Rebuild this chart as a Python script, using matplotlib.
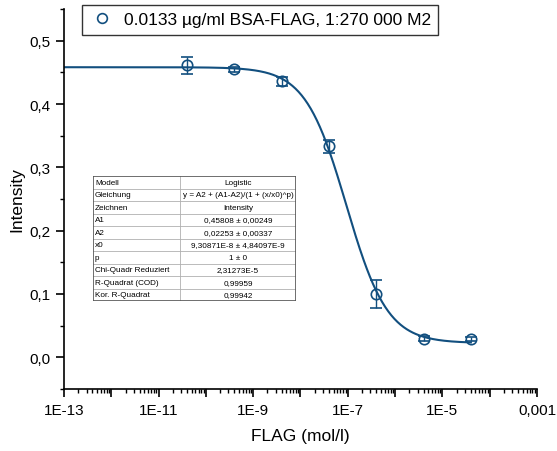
import numpy as np
import matplotlib
matplotlib.use("Agg")
import matplotlib.pyplot as plt
from matplotlib.lines import Line2D
from matplotlib.ticker import LogLocator, FixedLocator, FuncFormatter

plt.rcParams['font.family'] = ['Liberation Sans', 'DejaVu Sans']

# ---- data ----
conc = [4e-11, 4e-10, 4e-9, 4e-8, 4e-7, 4e-6, 4e-5]
intensity = [0.461, 0.455, 0.436, 0.333, 0.0995, 0.0295, 0.0295]
err = [0.013, 0.004, 0.007, 0.010, 0.022, 0.004, 0.003]

# logistic fit parameters (from table)
A1 = 0.45808
A2 = 0.02253
x0 = 9.30871e-8
p = 1.0

legend_label = "0.0133 µg/ml BSA-FLAG, 1:270 000 M2"
x_tick_labels = {-13: "1E-13", -11: "1E-11", -9: "1E-9", -7: "1E-7", -5: "1E-5", -3: "0,001"}

table_keys = ["Modell", "Gleichung", "Zeichnen", "A1", "A2", "x0", "p",
              "Chi-Quadr Reduziert", "R-Quadrat (COD)", "Kor. R-Quadrat"]
table_vals = ["Logistic", "y = A2 + (A1-A2)/(1 + (x/x0)^p)", "Intensity",
              "0,45808 ± 0,00249", "0,02253 ± 0,00337", "9,30871E-8 ± 4,84097E-9",
              "1 ± 0", "2,31273E-5", "0,99959", "0,99942"]

color = '#124f7f'
W, H = 557, 452
fig = plt.figure(figsize=(W / 100, H / 100), dpi=100)
ax = fig.add_axes([64 / W, 1 - 390 / H, (537 - 64) / W, (390 - 10) / H])

# fit curve
xs = np.logspace(-13, np.log10(conc[-1]), 400)
ys = A2 + (A1 - A2) / (1 + (xs / x0) ** p)
ax.plot(xs, ys, color=color, lw=1.5, zorder=2)

ax.errorbar(conc, intensity, yerr=err, fmt='o', ms=7.5, mfc='none', mec=color,
            mew=1.2, ecolor=color, elinewidth=1.0, capsize=4, capthick=1.0,
            zorder=3)

ax.set_xscale('log')
ax.set_xlim(1e-13, 1e-3)
ax.set_ylim(-0.05, 0.55)

def xfmt(v, pos):
    e = int(round(np.log10(v)))
    return x_tick_labels.get(e, "")

ax.xaxis.set_major_locator(FixedLocator([10.0 ** e for e in range(-13, -2)]))
ax.xaxis.set_major_formatter(FuncFormatter(xfmt))
ax.xaxis.set_minor_locator(LogLocator(base=10, subs=np.arange(2, 10), numticks=100))
ax.xaxis.set_minor_formatter(FuncFormatter(lambda v, pos: ""))

ax.yaxis.set_major_locator(FixedLocator([0.0, 0.1, 0.2, 0.3, 0.4, 0.5]))
ax.yaxis.set_major_formatter(FuncFormatter(lambda v, pos: f"{v:.1f}".replace('.', ',')))
ax.yaxis.set_minor_locator(FixedLocator([-0.05, 0.05, 0.15, 0.25, 0.35, 0.45, 0.55]))

for s in ['top', 'right']:
    ax.spines[s].set_visible(False)
for s in ['left', 'bottom']:
    ax.spines[s].set_linewidth(1.2)
ax.tick_params(which='major', direction='out', length=6, width=1.2, labelsize=11)
ax.tick_params(which='minor', direction='out', length=3, width=1.0)
ax.tick_params(axis='x', which='major', pad=4)

ax.set_xlabel("FLAG (mol/l)", fontsize=12.5, labelpad=8)
ax.set_ylabel("Intensity", fontsize=12.5, labelpad=4)

handle = Line2D([], [], marker='o', ls='none', ms=7, mfc='none', mec=color, mew=1.2)
leg = fig.legend([handle], [legend_label], loc='upper left',
                 bbox_to_anchor=(82 / W, 1 - 6 / H),
                 fontsize=12.5, frameon=True, fancybox=False, edgecolor='black',
                 handletextpad=0.5, borderpad=0.42, handlelength=1.5,
                 borderaxespad=0)
leg.get_frame().set_linewidth(1.0)

# ---- table ----
tx0, ty0, tx1, ty1 = 93, 177, 296, 302
tax = fig.add_axes([tx0 / W, 1 - ty1 / H, (tx1 - tx0) / W, (ty1 - ty0) / H])
tax.set_xlim(0, tx1 - tx0)
tax.set_ylim(ty1 - ty0, 0)
tax.axis('off')
tax.add_patch(plt.Rectangle((0, 0), tx1 - tx0, ty1 - ty0, facecolor='white',
                            edgecolor='none', zorder=0))
n = len(table_keys)
rh = (ty1 - ty0) / n
colx = 180 - tx0
for i in range(1, n):
    tax.plot([0, tx1 - tx0], [i * rh, i * rh], color='#b0b0b0', lw=0.6)
tax.plot([colx, colx], [0, ty1 - ty0], color='#b0b0b0', lw=0.6)
tax.add_patch(plt.Rectangle((0, 0), tx1 - tx0, ty1 - ty0, facecolor='none',
                            edgecolor='#555555', lw=1.2, zorder=3))
for i, (k, v) in enumerate(zip(table_keys, table_vals)):
    yc = (i + 0.5) * rh
    tax.text(2, yc, k, fontsize=5.9, ha='left', va='center')
    tax.text((colx + tx1 - tx0) / 2, yc, v, fontsize=5.9, ha='center', va='center')

fig.savefig("out.png", dpi=100)
